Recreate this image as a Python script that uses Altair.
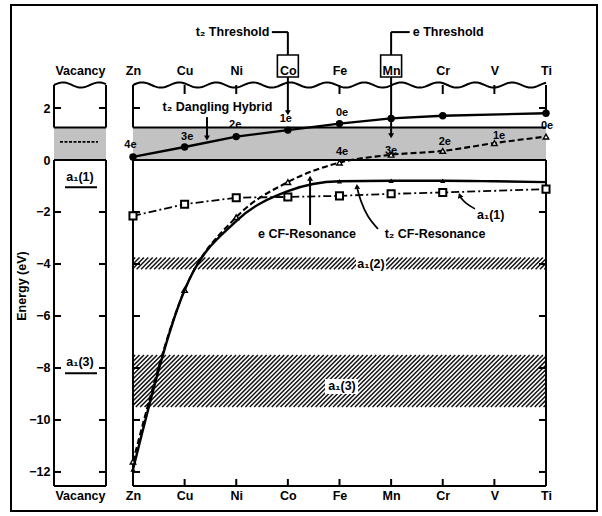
import altair as alt
import numpy as np
import pandas as pd

# ---------------- data ----------------
elements = ["Zn", "Cu", "Ni", "Co", "Fe", "Mn", "Cr", "V", "Ti"]
elem_x = [0, 1, 2, 3, 4, 5, 6, 7, 8]
vacancy_x = -1.027
energy_ticks = [2, 0, -2, -4, -6, -8, -10, -12]

# e gap level (solid line, filled circles)
egap_x = [0, 1, 2, 3, 4, 5, 6, 8]
egap_y = [0.12, 0.50, 0.90, 1.15, 1.40, 1.60, 1.70, 1.80]

# t2 CF-resonance / gap level (dashed, open triangles)
t2_x = [0, 1, 2, 3, 4, 5, 6, 7, 8]
t2_y = [-11.6, -5.0, -2.2, -0.85, -0.1, 0.2, 0.35, 0.65, 0.9]

# e CF-resonance (solid, small filled triangles)
ecf_x = [0, 1, 2, 3, 4, 5, 6, 7, 8]
ecf_y = [-11.9, -5.0, -2.35, -1.2, -0.82, -0.8, -0.8, -0.82, -0.85]
ecf_mark_x = [0, 4, 5, 6]
ecf_mark_y = [-11.9, -0.82, -0.8, -0.8]

# a1(1) (dash-dot, open squares)
a1_x = [0, 1, 2, 3, 4, 5, 6, 8]
a1_y = [-2.15, -1.7, -1.45, -1.42, -1.38, -1.3, -1.25, -1.12]

# bands
gap_band = [0.0, 1.25]
a1_2_band = [-3.75, -4.2]
a1_3_band = [-7.5, -9.5]

# vacancy levels
vac_a1_1 = -1.05
vac_a1_3 = -8.2
vac_gap_line = 0.7

# charge-state labels
egap_lab_text = ["4e", "3e", "2e", "1e", "0e", "0e"]
egap_lab_x = [-0.05, 1.05, 1.98, 2.96, 4.05, 8.02]
egap_lab_y = [0.58, 0.88, 1.35, 1.58, 1.81, 1.31]
t2_lab_text = ["4e", "3e", "2e", "1e"]
t2_lab_x = [4.05, 5.0, 6.04, 7.09]
t2_lab_y = [0.31, 0.35, 0.69, 0.92]

# ---------------- geometry helpers ----------------
X0, X1 = -1.53, 8.0
Y0, Y1 = -12.54, 2.885
PW, PH = 492, 401
PX = PW / (X1 - X0)
PY = PH / (Y1 - Y0)
VL, VR = -1.53, -0.523          # vacancy panel edges
ML, MR = 0.0, 8.0               # main panel edges
BOT, TOP = Y0, Y1

xs = alt.Scale(domain=[X0, X1], nice=False, zero=False)
ys = alt.Scale(domain=[Y0, Y1], nice=False, zero=False)

FONT = "Liberation Sans"
LW = 2.0


def X(f="x"):
    return alt.X(f"{f}:Q", scale=xs, axis=None)


def Y(f="y"):
    return alt.Y(f"{f}:Q", scale=ys, axis=None)


def hatch_segments(xa, xb, ya, yb, pitch=3.1):
    """'/' hatch texture segments filling the band [xa,xb] x [yb,ya] (ya top)."""
    x0p, x1p = xa * PX, xb * PX
    t0, t1 = -ya * PY, -yb * PY           # pixel-like coordinates, y downward
    step = pitch * np.sqrt(2)
    out = []
    c = x0p + t0 + step / 2
    while c < x1p + t1:
        xs_ = max(x0p, c - t1)
        xe_ = min(x1p, c - t0)
        if xe_ > xs_:
            out.append((xs_ / PX, -(c - xs_) / PY, xe_ / PX, -(c - xe_) / PY))
        c += step
    return out


layers = []

# outer frame
frame = pd.DataFrame({"x": [-2.363], "x2": [8.988], "y": [5.96], "y2": [-13.5]})
layers.append(alt.Chart(frame).mark_rect(fillOpacity=0, stroke="black", strokeWidth=2).encode(
    x=X(), x2="x2", y=Y(), y2="y2"))

# stipple gap band
gb = pd.DataFrame({"x": [VL, ML], "x2": [VR, MR], "y": [gap_band[0]] * 2, "y2": [gap_band[1]] * 2})
layers.append(alt.Chart(gb).mark_rect(fill="#c2c2c2").encode(x=X(), x2="x2", y=Y(), y2="y2"))

# hatched bands
hs = []
for band in (a1_2_band, a1_3_band):
    hs += hatch_segments(ML, MR, band[0], band[1])
hd = pd.DataFrame(hs, columns=["x", "y", "x2", "y2"])
layers.append(alt.Chart(hd).mark_rule(strokeWidth=1.5, color="#111111").encode(
    x=X(), y=Y(), x2="x2", y2="y2"))

# white boxes behind band labels
wb = pd.DataFrame({"x": [4.32, 3.72], "x2": [4.90, 4.36], "y": [-3.68, -8.42], "y2": [-4.28, -9.0]})
layers.append(alt.Chart(wb).mark_rect(fill="white").encode(x=X(), x2="x2", y=Y(), y2="y2"))

# panel borders
segs = [
    (VL, TOP, VL, gap_band[1]), (VR, TOP, VR, gap_band[1]), (VL, gap_band[1], VR, gap_band[1]),
    (VL, 0, VR, 0), (VL, 0, VL, BOT), (VR, 0, VR, BOT), (VL, BOT, VR, BOT),
    (ML, TOP, ML, gap_band[1]), (MR, TOP, MR, 1.8), (ML, gap_band[1], MR, gap_band[1]),
    (ML, 0, MR, 0), (ML, 0, ML, BOT), (MR, 0, MR, BOT), (ML, BOT, MR, BOT),
]
# inward ticks
tl = 7 / PX
for xe, d in ((VL, 1), (VR, -1), (ML, 1), (MR, -1)):
    for v in energy_ticks:
        segs.append((xe, v, xe + d * tl, v))
for e in elem_x[1:-1]:
    segs.append((e, BOT, e, BOT + 7 / PY))
for e in [1, 2, 4, 6, 7]:
    segs.append((e, TOP, e, TOP - 9 / PY))
# vacancy level underlines
segs.append((-1.317, vac_a1_1, -0.697, vac_a1_1))
segs.append((-1.317, vac_a1_3, -0.697, vac_a1_3))
# threshold connectors and arrow shafts
segs += [
    (2.69, 4.92, 3.0, 4.92), (3.0, 4.92, 3.0, 4.04), (3.0, 3.19, 3.0, 1.85),
    (5.36, 4.92, 5.0, 4.92), (5.0, 4.92, 5.0, 4.04), (5.0, 3.19, 5.0, 0.95),
    (1.433, 1.65, 1.433, 0.85),
    (3.43, -2.5, 3.43, -0.7),
]
sd = pd.DataFrame(segs, columns=["x", "y", "x2", "y2"])
layers.append(alt.Chart(sd).mark_rule(strokeWidth=LW, color="black").encode(
    x=X(), y=Y(), x2="x2", y2="y2"))

# vacancy dashed gap line
vd = pd.DataFrame({"x": [-1.414], "x2": [-0.678], "y": [vac_gap_line], "y2": [vac_gap_line]})
layers.append(alt.Chart(vd).mark_rule(strokeWidth=1.8, strokeDash=[3, 1.5], color="black").encode(
    x=X(), y=Y(), x2="x2", y2="y2"))

# wavy broken-axis tops
wx_main = np.linspace(ML, MR, 240)
wx_vac = np.linspace(VL, VR, 40)
wave = pd.DataFrame({
    "x": np.concatenate([wx_vac, wx_main]),
    "y": np.concatenate([TOP + 0.1 * np.sin(2 * np.pi * (wx_vac - VL) * PX / 36),
                         TOP + 0.1 * np.sin(2 * np.pi * wx_main * PX / 37)]),
    "g": ["v"] * len(wx_vac) + ["m"] * len(wx_main),
    "o": list(range(len(wx_vac))) + list(range(len(wx_main))),
})
layers.append(alt.Chart(wave).mark_line(strokeWidth=LW, color="black").encode(
    x=X(), y=Y(), detail="g:N", order="o:Q"))

# Co / Mn label boxes
bx = pd.DataFrame({"x": [2.797, 4.797], "x2": [3.203, 5.203], "y": [4.04, 4.04], "y2": [3.19, 3.19]})
layers.append(alt.Chart(bx).mark_rect(fillOpacity=0, stroke="black", strokeWidth=1.6).encode(
    x=X(), x2="x2", y=Y(), y2="y2"))

# curved annotation arrows
cv = pd.DataFrame({
    "x": [4.746, 4.55, 4.40, 4.34, 6.625, 6.43, 6.33],
    "y": [-2.65, -2.23, -1.54, -1.05, -1.88, -1.65, -1.40],
    "g": ["a"] * 4 + ["b"] * 3,
    "o": [0, 1, 2, 3, 0, 1, 2],
})
layers.append(alt.Chart(cv).mark_line(strokeWidth=1.7, color="black", interpolate="basis").encode(
    x=X(), y=Y(), detail="g:N", order="o:Q"))

# arrowheads
ah = pd.DataFrame({
    "x": [3.0, 5.0, 1.433, 3.43, 4.34, 6.33],
    "y": [1.82, 0.93, 0.85, -0.7, -1.02, -1.36],
    "shape": ["triangle-down", "triangle-down", "triangle-down", "triangle-up", "triangle-up", "triangle-up"],
    "angle": [0, 0, 0, 0, 355, 340],
})
layers.append(alt.Chart(ah).mark_point(filled=True, color="black", size=34, opacity=1).encode(
    x=X(), y=Y(), shape=alt.Shape("shape:N", scale=None), angle=alt.Angle("angle:Q", scale=None)))

# ---- data series ----
d_egap = pd.DataFrame({"x": egap_x, "y": egap_y})
layers.append(alt.Chart(d_egap).mark_line(strokeWidth=2.4, color="black").encode(x=X(), y=Y()))
layers.append(alt.Chart(d_egap).mark_point(filled=True, color="black", size=55, opacity=1).encode(x=X(), y=Y()))

d_t2 = pd.DataFrame({"x": t2_x, "y": t2_y})
layers.append(alt.Chart(d_t2).mark_line(strokeWidth=2.1, color="black", strokeDash=[6, 3],
                                         interpolate="monotone").encode(x=X(), y=Y()))
layers.append(alt.Chart(d_t2).mark_point(shape="triangle-up", filled=True, fill="white", stroke="black",
                                          strokeWidth=1.4, size=30, opacity=1).encode(x=X(), y=Y()))

d_ecf = pd.DataFrame({"x": ecf_x, "y": ecf_y})
layers.append(alt.Chart(d_ecf).mark_line(strokeWidth=2.4, color="black",
                                          interpolate="monotone").encode(x=X(), y=Y()))
d_ecfm = pd.DataFrame({"x": ecf_mark_x, "y": ecf_mark_y})
layers.append(alt.Chart(d_ecfm).mark_point(shape="triangle-up", filled=True, color="black",
                                            size=28, opacity=1).encode(x=X(), y=Y()))

d_a1 = pd.DataFrame({"x": a1_x, "y": a1_y})
layers.append(alt.Chart(d_a1).mark_line(strokeWidth=1.8, color="black",
                                         strokeDash=[8, 3, 2, 3]).encode(x=X(), y=Y()))
layers.append(alt.Chart(d_a1).mark_point(shape="square", filled=True, fill="white", stroke="black",
                                          strokeWidth=2, size=50, opacity=1).encode(x=X(), y=Y()))

# ---- text ----
lab = pd.DataFrame({"t": egap_lab_text + t2_lab_text,
                    "x": egap_lab_x + t2_lab_x,
                    "y": egap_lab_y + t2_lab_y})
layers.append(alt.Chart(lab).mark_text(font=FONT, fontWeight="bold", fontSize=11, baseline="middle").encode(
    x=X(), y=Y(), text="t:N"))

ann = pd.DataFrame({
    "t": ["t\u2082 Threshold", "e Threshold", "t\u2082 Dangling Hybrid", "e CF-Resonance",
          "t\u2082 CF-Resonance", "a\u2081(1)", "a\u2081(2)", "a\u2081(3)", "a\u2081(1)", "a\u2081(3)"],
    "x": [2.64, 5.42, 1.636, 3.37, 5.85, 6.93, 4.61, 4.05, vacancy_x, vacancy_x],
    "y": [4.92, 4.92, 2.04, -2.85, -2.85, -2.12, -4.0, -8.69, -0.65, -7.77],
    "a": ["right", "left", "center", "center", "center", "center", "center", "center", "center", "center"],
})
for al in ("right", "left", "center"):
    layers.append(alt.Chart(ann[ann["a"] == al]).mark_text(
        font=FONT, fontWeight="bold", fontSize=12.5, baseline="middle", align=al).encode(
        x=X(), y=Y(), text="t:N"))

# ---- axes (real axes, no marks) ----
names_js = "[" + ",".join(f"'{e}'" for e in elements) + "]"
lab_expr = f"datum.value < -0.5 ? 'Vacancy' : {names_js}[round(datum.value)]"
axis_common = dict(domain=False, ticks=False, grid=False, labelFont=FONT, labelFontWeight="bold",
                   labelFontSize=12.5, labelColor="black", title=None, labelExpr=lab_expr,
                   values=[vacancy_x] + elem_x, labelOverlap=False, labelFlush=False)
ax_df = pd.DataFrame({"x": [vacancy_x] + elem_x})
layers.append(alt.Chart(ax_df).mark_point(opacity=0).encode(
    x=alt.X("x:Q", scale=xs, axis=alt.Axis(orient="bottom", labelPadding=3, **axis_common)),
    y=alt.value(0)))
layers.append(alt.Chart(ax_df).mark_point(opacity=0).encode(
    x=alt.X("x:Q", scale=xs, axis=alt.Axis(orient="top", labelPadding=8, **axis_common)),
    y=alt.value(0)))
ay_df = pd.DataFrame({"y": energy_ticks})
layers.append(alt.Chart(ay_df).mark_point(opacity=0).encode(
    y=alt.Y("y:Q", scale=ys, axis=alt.Axis(orient="left", values=energy_ticks, domain=False, ticks=False,
                                            grid=False, labelFont=FONT, labelFontWeight="bold",
                                            labelFontSize=12.5, labelColor="black", labelPadding=4,
                                            title="Energy (eV)", titleFont=FONT, titleFontWeight="bold",
                                            titleFontSize=12.5, titleColor="black",
                                            titleX=-33, titleBaseline="middle")),
    x=alt.value(0)))

chart = alt.layer(*layers).resolve_axis(x="independent", y="independent").properties(
    width=PW, height=PH,
    padding={"left": 54, "top": 85, "right": 56, "bottom": 30},
    autosize=alt.AutoSizeParams(type="none"),
    background="white",
).configure_view(stroke=None)

chart.save("out.html", embed_options={"renderer": "svg", "actions": False})
